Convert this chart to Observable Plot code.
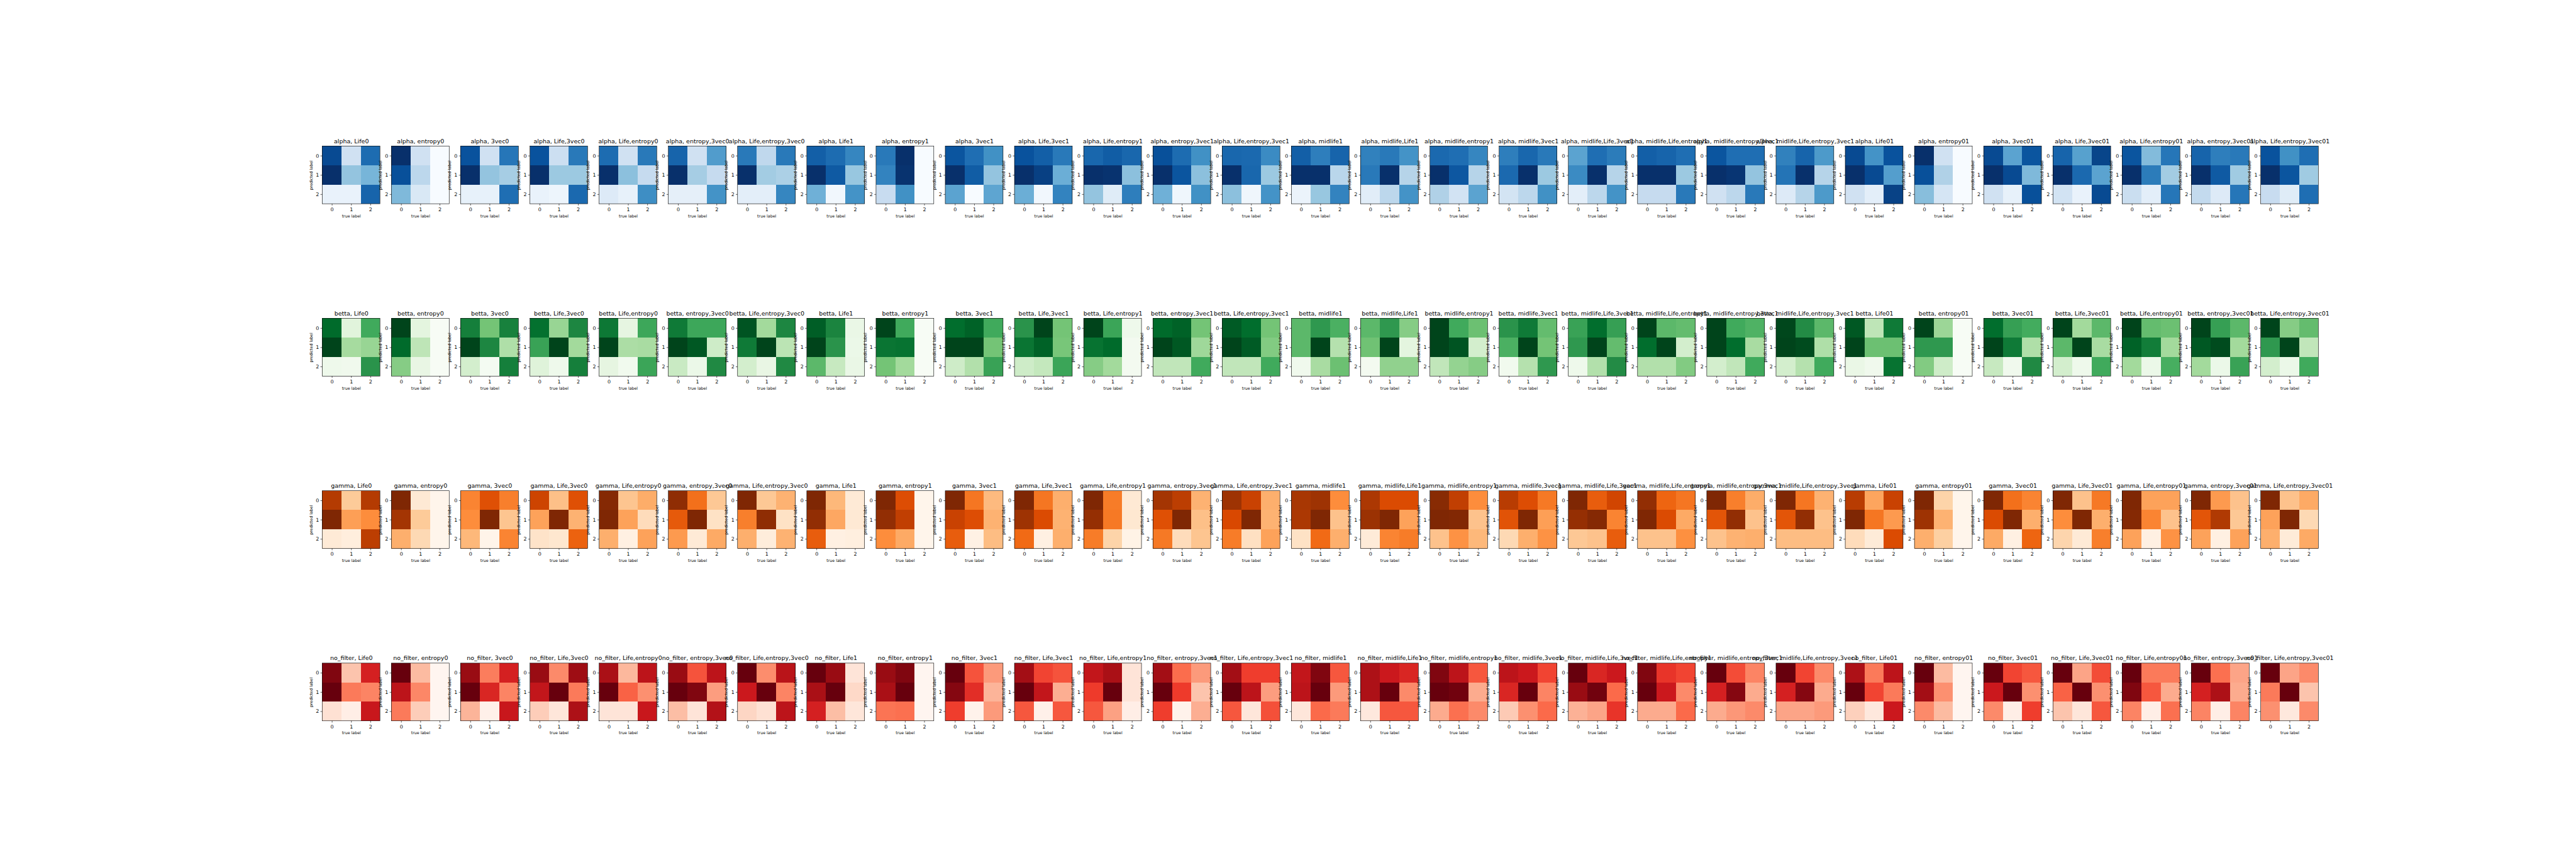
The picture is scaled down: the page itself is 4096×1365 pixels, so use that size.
<!DOCTYPE html>
<html>
<head>
<meta charset="utf-8">
<script src="https://cdn.jsdelivr.net/npm/d3@7"></script>
<script src="https://cdn.jsdelivr.net/npm/@observablehq/plot@0.6"></script>
<style>
html, body { margin: 0; padding: 0; background: #ffffff; }
#chart { width: 4096px; height: 1365px; overflow: hidden; }
#chart svg { display: block; }
</style>
</head>
<body>
<div id="chart"></div>
<script>
// ---------------- data ----------------
const filters = ["alpha", "betta", "gamma", "no_filter"];
const features = ["Life0", "entropy0", "3vec0", "Life,3vec0", "Life,entropy0", "entropy,3vec0", "Life,entropy,3vec0",
  "Life1", "entropy1", "3vec1", "Life,3vec1", "Life,entropy1", "entropy,3vec1", "Life,entropy,3vec1",
  "midlife1", "midlife,Life1", "midlife,entropy1", "midlife,3vec1", "midlife,Life,3vec1", "midlife,Life,entropy1",
  "midlife,entropy,3vec1", "midlife,Life,entropy,3vec1",
  "Life01", "entropy01", "3vec01", "Life,3vec01", "Life,entropy01", "entropy,3vec01", "Life,entropy,3vec01"];
const tickLabels = ["0", "1", "2"];
const xLabel = "true label";
const yLabel = "predicted label";

// normalized cell intensity per panel (rows: predicted 0..2, cols: true 0..2)
const alphaValues = [
  [0.90,0.20,0.77, 1.00,0.40,0.47, 0.07,0.07,0.80],
  [1.00,0.20,0.00, 0.88,0.28,0.00, 0.45,0.15,0.00],
  [0.87,0.20,0.73, 1.00,0.40,0.35, 0.08,0.08,0.76],
  [0.87,0.22,0.72, 1.00,0.38,0.38, 0.07,0.05,0.78],
  [0.77,0.20,0.72, 1.00,0.42,0.25, 0.13,0.08,0.64],
  [0.80,0.20,0.58, 1.00,0.35,0.25, 0.09,0.09,0.62],
  [0.72,0.27,0.72, 1.00,0.36,0.33, 0.10,0.10,0.67],
  [0.82,0.77,0.67, 1.00,0.84,0.39, 0.49,0.03,0.62],
  [0.72,1.00,0.00, 0.68,0.99,0.00, 0.24,0.63,0.00],
  [0.86,0.76,0.63, 1.00,0.83,0.40, 0.55,0.00,0.54],
  [0.87,0.82,0.72, 1.00,0.94,0.50, 0.50,0.03,0.68],
  [0.79,0.83,0.79, 1.00,0.99,0.42, 0.40,0.12,0.70],
  [0.88,0.77,0.63, 1.00,0.86,0.42, 0.49,0.04,0.63],
  [0.79,0.78,0.65, 1.00,0.79,0.38, 0.42,0.04,0.62],
  [0.82,0.70,0.80, 1.00,1.00,0.29, 0.06,0.39,0.68],
  [0.69,0.72,0.62, 0.72,1.00,0.30, 0.11,0.28,0.62],
  [0.78,0.76,0.67, 1.00,0.85,0.30, 0.32,0.19,0.55],
  [0.70,0.79,0.72, 0.78,1.00,0.38, 0.18,0.28,0.63],
  [0.55,0.76,0.71, 0.65,1.00,0.30, 0.10,0.28,0.62],
  [0.82,0.80,0.76, 1.00,1.00,0.38, 0.25,0.25,0.72],
  [0.86,0.76,0.76, 1.00,0.98,0.40, 0.20,0.28,0.72],
  [0.69,0.80,0.59, 0.74,1.00,0.30, 0.13,0.30,0.59],
  [0.90,0.62,0.87, 1.00,0.90,0.57, 0.20,0.10,0.93],
  [1.00,0.20,0.00, 0.88,0.32,0.00, 0.43,0.17,0.00],
  [0.90,0.55,0.86, 1.00,0.90,0.45, 0.20,0.08,0.88],
  [0.80,0.56,0.92, 1.00,0.78,0.55, 0.19,0.07,0.90],
  [0.86,0.44,0.73, 1.00,0.71,0.36, 0.23,0.10,0.73],
  [0.80,0.70,0.72, 1.00,0.84,0.37, 0.26,0.13,0.73],
  [0.87,0.63,0.76, 1.00,0.86,0.37, 0.24,0.12,0.76]
];
const bettaValues = [
  [0.88,0.14,0.63, 1.00,0.36,0.40, 0.06,0.05,0.72],
  [1.00,0.13,0.00, 0.88,0.28,0.00, 0.45,0.10,0.00],
  [0.80,0.50,0.79, 1.00,0.77,0.33, 0.20,0.02,0.80],
  [0.86,0.40,0.77, 0.66,1.00,0.37, 0.15,0.06,0.80],
  [0.83,0.12,0.64, 1.00,0.34,0.35, 0.12,0.04,0.65],
  [0.82,0.64,0.64, 1.00,0.94,0.22, 0.24,0.08,0.76],
  [0.95,0.37,0.77, 0.82,1.00,0.29, 0.20,0.10,0.76],
  [0.92,0.78,0.09, 1.00,0.72,0.08, 0.56,0.25,0.09],
  [1.00,0.63,0.00, 0.84,0.85,0.00, 0.50,0.37,0.00],
  [0.87,0.91,0.63, 1.00,1.00,0.50, 0.22,0.32,0.66],
  [0.72,1.00,0.50, 0.84,0.91,0.49, 0.22,0.26,0.65],
  [1.00,0.65,0.06, 0.85,0.88,0.03, 0.45,0.37,0.03],
  [0.88,0.91,0.50, 1.00,0.94,0.38, 0.27,0.27,0.63],
  [0.93,0.87,0.50, 1.00,0.93,0.46, 0.27,0.27,0.63],
  [0.56,0.70,0.60, 0.56,1.00,0.31, 0.05,0.35,0.52],
  [0.56,0.70,0.45, 0.51,1.00,0.13, 0.03,0.42,0.42],
  [1.00,0.63,0.52, 1.00,0.95,0.20, 0.27,0.41,0.45],
  [0.72,0.82,0.54, 0.60,1.00,0.50, 0.04,0.31,0.70],
  [0.66,0.87,0.67, 0.70,1.00,0.54, 0.06,0.32,0.75],
  [1.00,0.56,0.54, 0.87,1.00,0.20, 0.32,0.32,0.46],
  [1.00,0.63,0.59, 1.00,0.87,0.35, 0.20,0.27,0.63],
  [0.99,0.75,0.56, 1.00,0.98,0.33, 0.20,0.31,0.63],
  [0.94,0.28,0.82, 1.00,0.52,0.52, 0.09,0.05,0.85],
  [1.00,0.39,0.00, 0.70,0.70,0.00, 0.46,0.22,0.00],
  [0.87,0.67,0.62, 1.00,0.82,0.33, 0.25,0.05,0.76],
  [1.00,0.37,0.56, 0.56,1.00,0.35, 0.20,0.06,0.63],
  [1.00,0.54,0.52, 0.91,0.81,0.37, 0.37,0.08,0.61],
  [1.00,0.67,0.56, 0.94,0.98,0.37, 0.37,0.08,0.66],
  [1.00,0.45,0.54, 0.70,1.00,0.27, 0.20,0.08,0.63]
];
const gammaValues = [
  [0.84,0.27,0.84, 1.00,0.43,0.50, 0.09,0.06,0.82],
  [1.00,0.10,0.00, 0.88,0.27,0.00, 0.37,0.20,0.00],
  [0.53,0.72,0.55, 0.50,1.00,0.29, 0.34,0.01,0.53],
  [0.78,0.31,0.72, 0.42,1.00,0.36, 0.14,0.12,0.65],
  [0.98,0.29,0.38, 1.00,0.42,0.18, 0.37,0.04,0.42],
  [0.95,0.60,0.28, 0.68,1.00,0.15, 0.45,0.09,0.39],
  [1.00,0.28,0.36, 0.55,0.95,0.15, 0.37,0.07,0.36],
  [1.00,0.34,0.09, 0.94,0.40,0.10, 0.67,0.04,0.05],
  [1.00,0.73,0.00, 0.94,0.81,0.00, 0.50,0.39,0.00],
  [1.00,0.58,0.33, 0.79,0.73,0.36, 0.67,0.03,0.32],
  [1.00,0.58,0.37, 0.90,0.74,0.36, 0.62,0.04,0.37],
  [1.00,0.56,0.10, 0.93,0.57,0.11, 0.56,0.23,0.02],
  [0.88,0.82,0.36, 0.72,1.00,0.31, 0.57,0.18,0.29],
  [0.90,0.79,0.37, 0.75,1.00,0.36, 0.56,0.16,0.42],
  [0.87,0.90,0.50, 0.86,1.00,0.30, 0.15,0.62,0.37],
  [0.86,0.74,0.74, 0.91,1.00,0.42, 0.08,0.53,0.56],
  [0.97,0.81,0.50, 1.00,0.99,0.30, 0.30,0.48,0.34],
  [0.83,0.73,0.57, 0.71,1.00,0.43, 0.20,0.37,0.48],
  [1.00,0.67,0.77, 0.93,0.98,0.53, 0.28,0.30,0.67],
  [0.94,0.64,0.58, 1.00,0.74,0.39, 0.30,0.30,0.49],
  [1.00,0.55,0.38, 0.70,0.94,0.30, 0.30,0.36,0.37],
  [1.00,0.58,0.36, 0.70,0.94,0.30, 0.32,0.32,0.32],
  [0.83,0.41,0.79, 1.00,0.58,0.45, 0.18,0.08,0.74],
  [1.00,0.23,0.00, 0.90,0.36,0.00, 0.37,0.25,0.00],
  [1.00,0.60,0.53, 0.74,1.00,0.37, 0.39,0.04,0.64],
  [1.00,0.30,0.57, 0.50,1.00,0.37, 0.22,0.09,0.55],
  [1.00,0.42,0.42, 0.98,0.53,0.30, 0.42,0.04,0.48],
  [1.00,0.45,0.30, 0.70,0.85,0.28, 0.42,0.04,0.42],
  [1.00,0.30,0.39, 0.42,1.00,0.20, 0.37,0.08,0.39]
];
const noFilterValues = [
  [0.95,0.22,0.72, 1.00,0.45,0.42, 0.12,0.04,0.76],
  [1.00,0.25,0.00, 0.80,0.41,0.00, 0.45,0.19,0.00],
  [0.90,0.44,0.72, 1.00,0.70,0.42, 0.27,0.03,0.76],
  [0.90,0.40,0.89, 0.78,1.00,0.45, 0.19,0.09,0.85],
  [0.86,0.26,0.80, 1.00,0.52,0.38, 0.10,0.10,0.76],
  [0.90,0.56,0.80, 1.00,0.95,0.34, 0.24,0.10,0.83],
  [1.00,0.39,0.81, 0.75,1.00,0.42, 0.16,0.12,0.80],
  [1.00,0.90,0.10, 0.86,1.00,0.15, 0.72,0.24,0.09],
  [0.90,0.95,0.00, 0.86,1.00,0.00, 0.47,0.48,0.00],
  [1.00,0.56,0.35, 0.94,0.67,0.27, 0.62,0.02,0.35],
  [0.88,0.60,0.56, 1.00,0.78,0.29, 0.55,0.03,0.55],
  [0.78,0.86,0.10, 0.63,1.00,0.10, 0.55,0.33,0.04],
  [0.88,0.49,0.35, 1.00,0.63,0.22, 0.62,0.02,0.29],
  [0.88,0.62,0.62, 1.00,0.80,0.34, 0.55,0.09,0.57],
  [0.78,0.95,0.55, 0.80,1.00,0.35, 0.09,0.50,0.45],
  [0.85,0.75,0.70, 0.85,1.00,0.40, 0.08,0.55,0.55],
  [0.95,0.80,0.55, 1.00,0.98,0.30, 0.30,0.48,0.40],
  [0.80,0.75,0.60, 0.70,1.00,0.42, 0.20,0.38,0.50],
  [1.00,0.70,0.75, 0.90,0.98,0.50, 0.28,0.32,0.65],
  [0.95,0.65,0.60, 1.00,0.75,0.40, 0.30,0.30,0.50],
  [1.00,0.58,0.42, 0.72,0.94,0.30, 0.30,0.36,0.40],
  [1.00,0.60,0.40, 0.72,0.94,0.30, 0.32,0.32,0.35],
  [0.85,0.45,0.80, 1.00,0.60,0.45, 0.18,0.08,0.75],
  [1.00,0.25,0.00, 0.88,0.38,0.00, 0.40,0.25,0.00],
  [1.00,0.60,0.55, 0.75,1.00,0.38, 0.40,0.04,0.62],
  [1.00,0.32,0.58, 0.52,1.00,0.38, 0.22,0.09,0.55],
  [1.00,0.45,0.45, 0.95,0.55,0.30, 0.42,0.04,0.48],
  [1.00,0.48,0.32, 0.72,0.85,0.30, 0.42,0.04,0.42],
  [1.00,0.32,0.40, 0.45,1.00,0.22, 0.38,0.08,0.40]
];

// ---------------- layout (reference px -> window px) ----------------
const S = 4096 / 7200;
const PANEL = 161.5;                 // panel side in reference px
const UNIT = PANEL / 3;              // one cell
const colStep = 193.5 / UNIT;        // column pitch in cell units
const rowStep = 482 / UNIT;          // row pitch in cell units
const tickLen = 4.86 / UNIT;
const ylabelOffset = 31.5 / UNIT;
const left0 = 900.5, top0 = 408.3;
const xMax = 28 * colStep + 3, yMax = 3 * rowStep + 3;
const xRange = [left0 * S, (left0 + xMax * UNIT) * S];
const yRange = [top0 * S, (top0 + yMax * UNIT) * S];

const ramps = [d3.schemeBlues[9], d3.schemeGreens[9], d3.schemeOranges[9], d3.schemeReds[9]]
  .map(s => d3.piecewise(d3.interpolateRgb, s));
// each filter row occupies [2r, 2r+1] of the color domain [0, 7]
const colorOf = (t) => {
  const v = t * 7;
  const r = Math.max(0, Math.min(3, Math.floor(v / 2)));
  return ramps[r](Math.max(0, Math.min(1, v - 2 * r)));
};

const valueRows = [alphaValues, bettaValues, gammaValues, noFilterValues];
const panels = [];
filters.forEach((f, r) => features.forEach((feat, c) => panels.push({r, c, title: `${f}, ${feat}`})));
const cells = [];
valueRows.forEach((rows, r) => rows.forEach((m, c) => m.forEach((t, k) =>
  cells.push({r, c, i: Math.floor(k / 3), j: k % 3, t}))));
const ticks = panels.flatMap(p => tickLabels.map((label, k) => ({r: p.r, c: p.c, k, label})));

const px = d => d.c * colStep;
const py = d => d.r * rowStep;

const chart = Plot.plot({
  width: 4096,
  height: 1365,
  margin: 0,
  x: {type: "linear", domain: [0, xMax], range: xRange, axis: null},
  y: {type: "linear", domain: [0, yMax], range: yRange, axis: null},
  color: {type: "linear", domain: [0, 7], interpolate: colorOf},
  style: {fontFamily: "'DejaVu Sans', sans-serif", background: "#ffffff", color: "#000000"},
  marks: [
    Plot.rect(cells, {
      x1: d => px(d) + d.j, x2: d => px(d) + d.j + 1,
      y1: d => py(d) + d.i, y2: d => py(d) + d.i + 1,
      fill: d => 2 * d.r + d.t, shapeRendering: "crispEdges"
    }),
    Plot.rect(panels, {
      x1: px, x2: d => px(d) + 3, y1: py, y2: d => py(d) + 3,
      fill: "none", stroke: "#000000", strokeWidth: 0.63
    }),
    Plot.ruleX(ticks, {
      x: d => px(d) + d.k + 0.5, y1: d => py(d) + 3, y2: d => py(d) + 3 + tickLen,
      stroke: "#000000", strokeWidth: 0.63
    }),
    Plot.ruleY(ticks, {
      y: d => py(d) + d.k + 0.5, x1: d => px(d) - tickLen, x2: px,
      stroke: "#000000", strokeWidth: 0.63
    }),
    Plot.text(ticks, {
      x: d => px(d) + d.k + 0.5, y: d => py(d) + 3, text: "label",
      dy: 8.9, lineAnchor: "middle", fontSize: 7.9, fill: "#000000"
    }),
    Plot.text(ticks, {
      x: px, y: d => py(d) + d.k + 0.5, text: "label",
      dx: -5.6, textAnchor: "end", lineAnchor: "middle", fontSize: 7.9, fill: "#000000"
    }),
    Plot.text(panels, {
      x: d => px(d) + 1.5, y: d => py(d) + 3, text: () => xLabel,
      dy: 18.9, lineAnchor: "middle", fontSize: 6.3, fill: "#000000"
    }),
    Plot.text(panels, {
      x: d => px(d) - ylabelOffset, y: d => py(d) + 1.5, text: () => yLabel,
      rotate: -90, lineAnchor: "middle", fontSize: 6.3, fill: "#000000"
    }),
    Plot.text(panels, {
      x: d => px(d) + 1.5, y: py, text: "title",
      dy: -8.3, lineAnchor: "middle", fontSize: 9.48, fill: "#000000"
    })
  ]
});
document.getElementById("chart").appendChild(chart);
</script>
</body>
</html>
